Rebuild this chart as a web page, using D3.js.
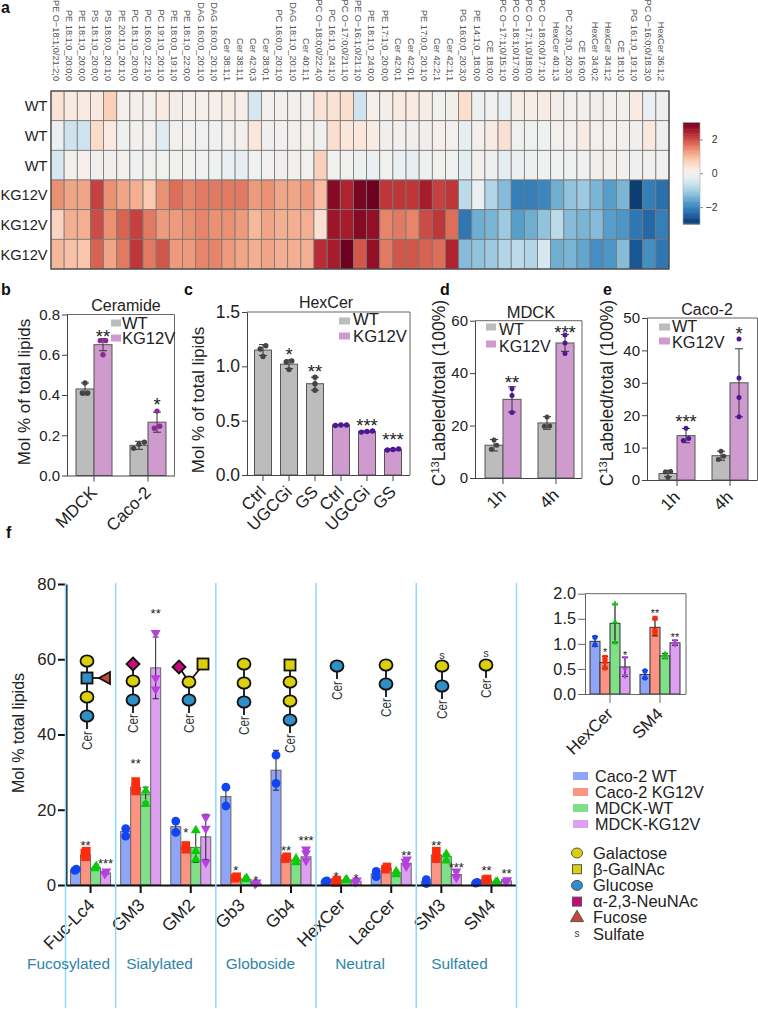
<!DOCTYPE html>
<html><head><meta charset="utf-8">
<script src="https://cdn.jsdelivr.net/npm/d3@7"></script>
<style>html,body{margin:0;background:#fff}svg{display:block}text{font-family:"Liberation Sans",Arial,sans-serif}</style>
</head><body><svg id="c" width="758" height="1009"></svg>
<script>
// ---------- Panel a ----------
const lipids=["PE O−18:1;0/21:2;0","PE 18:1;0_20:0;0","PE 18:1;0_20:0;0","PS 18:1;0_20:0;0","PS 18:0;0_20:1;0","PE 20:1;0_20:1;0","PC 18:1;0_20:0;0","PC 16:0;0_22:1;0","PC 19:1;0_20:1;0","PE 18:0;0_19:1;0","PE 18:1;0_22:0;0","DAG 16:0;0_20:1;0","DAG 16:0;0_20:1;0","Cer 38:1;1","Cer 38:1;1","Cer 42:0;3","Cer 38:0;1","PC 16:0;0_20:1;0","DAG 18:1;0_20:1;0","Cer 40:1;1","PC O−18:0;0/22:4;0","PC 16:1;0_24:1;0","PC O−17:0;0/21:1;0","PE O−16:1;0/21:1;0","PE 18:1;0_24:0;0","PE 17:1;0_20:0;0","Cer 42:0;1","Cer 42:0;1","PE 17:0;0_20:1;0","Cer 42:2;1","Cer 42:1;1","PG 16:0;0_20:3;0","PE 14:1;0_18:0;0","CE 18:0;0","PC O−17:1;0/15:1;0","PC O−18:1;0/17:0;0","PC O−17:1;0/18:0;0","PC O−18:0;0/17:1;0","HexCer 40:1;3","PC 20:3;0_20:3;0","CE 16:0;0","HexCer 34:0;2","HexCer 34:1;2","CE 18:1;0","PG 16:1;0_19:1;0","PC O−16:0;0/18:3;0","HexCer 36:1;2"];
const heatRows=["WT","WT","WT","KG12V","KG12V","KG12V"];
const heatWT1=[.4,.25,.25,.3,.7,.1,.1,.05,.25,.12,.1,.1,.1,.15,.12,-.5,.03,.05,.05,.03,.4,.4,.5,-.6,.1,.08,.25,.25,.15,-.05,.08,.5,-.1,-.05,-.2,.15,.15,.2,.12,.03,-.03,-.02,.05,-.03,.2,-.2,-.02];
const heatWT2=[-.15,-.6,-.6,.55,.25,-.1,.03,.05,-.35,-.03,-.03,-.08,-.07,.03,.03,.35,-.02,-.03,-.03,.03,-.05,.5,.35,.35,.2,-.02,-.03,-.02,-.02,.1,.05,-.25,.02,.2,.45,-.04,-.08,-.08,.05,.05,.2,.02,.01,.01,-.02,.3,-.02];
const heatWT3=[-.5,.05,.1,-.02,-.02,.05,-.07,-.05,-.05,-.05,-.03,-.06,-.06,-.2,-.25,-.07,-.03,-.02,-.03,-.03,.7,-.03,-.04,-.1,-.15,-.05,-.2,-.25,-.08,-.03,-.06,-.3,.05,-.1,-.3,-.15,-.1,-.08,-.08,-.07,-.05,-.02,-.02,-.03,-.1,-.03,-.03];
const heatKG1=[1.4,1.2,1.2,2.1,1.4,1.2,1.1,.8,1.4,1.7,1.5,1.6,1.6,1.6,1.6,1.3,1.4,1.2,1.2,1.3,.95,2.8,2.4,2.9,3,2.2,2.2,2.2,2.5,2.1,2.2,-.8,-.2,-.9,-1.3,-2.1,-2.1,-2,-1.5,-1.2,-1.1,-1.4,-1.7,-1.4,-2.9,-2.1,-2.3];
const heatKG2=[.65,1.1,1.1,2,1.4,1.8,2.1,1.6,1.3,1.3,1.4,1.5,1.4,1.4,1.3,1,1.2,1.1,1.1,1.1,.45,2.6,2.5,2.8,2.7,1.5,1.6,1.5,2,2.2,1.7,-2.2,-1.5,-1.4,-1.1,-1.7,-1.5,-1.2,-.8,-1.3,-1.4,-1.3,-1.7,-1.8,-2.2,-2.4,-2.1];
const heatKG3=[1,.9,.85,1.8,1.2,1.6,2.2,1.6,1.9,1.3,1.3,1.5,1.5,1.3,1.2,1.1,1.2,1.1,1.1,1.1,2.3,2.5,3,1.9,2.7,1.6,1.9,1.9,1.8,1.7,2.4,-1.3,-1.2,-1.1,-.9,-.8,-.9,-.5,-1.5,-1.4,-1.6,-1.9,-1.8,-1.3,-2.6,-1.9,-2.2];
const colorbarTicks=[2,0,-2];

// ---------- Panel b ----------
const bGroups=["MDCK","Caco-2"];
const bSeries=["WT","KG12V"];
const bValues=[.43,.65,.15,.265];
const bErrors=[.03,.03,.02,.05];
const bPoints=[[.41,.41,.46],[.60,.67,.67],[.135,.155,.165],[.235,.245,.32]];
const bStars=[["",0],["**",.71],["",0],["*",.375]];
// ---------- Panel c ----------
const cGroups=["Ctrl","UGCGi","GS","Ctrl ","UGCGi ","GS "];
const cValues=[1.15,1.02,.84,.46,.40,.235];
const cErrors=[.05,.04,.06,.004,.006,.006];
const cPoints=[[1.09,1.16,1.19],[.97,1.04,1.05],[.78,.84,.90],[.455,.46,.46],[.395,.40,.405],[.23,.235,.24]];
const cStars=[["",0],["*",1.15],["**",.99],["",0],["***",.495],["***",.36]];
// ---------- Panel d ----------
const dGroups=["1h","4h"];
const dValues=[12.5,30,21,51.5];
const dErrors=[2.2,4.8,2.4,3.2];
const dPoints=[[11,12.5,14.5],[25,31.5,34],[19.7,19.8,23.3],[47.5,51.5,54.5]];
const dStars=[["",0],["**",37.8],["",0],["***",57]];
// ---------- Panel e ----------
const eGroups=["1h","4h"];
const eValues=[2,13.7,7.5,30];
const eErrors=[1,2.2,1.4,10.5];
const ePoints=[[.8,2.5,2.6],[12.2,12.8,16],[6.3,7.3,8.9],[19.5,25.5,31.5,43.5]];
const eStars=[["",0],["***",19.4],["",0],["*",46.6]];
// ---------- Panel f ----------
const fGroups=["Fuc-Lc4","GM3","GM2","Gb3","Gb4","HexCer","LacCer","SM3","SM4"];
const fSeries=["Caco-2 WT","Caco-2 KG12V","MDCK-WT","MDCK-KG12V"];
const fValues=[4,8,4.5,3.2, 14.2,26,24,57.7, 15.5,10,10,12.8, 23.5,2,1.5,.5, 30.5,7,6.5,7.5, 1,1,1.3,1, 3,4.5,3.2,5.8, 1,8,7.5,2.8, .6,1.5,.8,1.1];
const fErrors=[.2,.8,.4,.4, 1.2,1.4,2,8.2, 1.8,.7,4,6, 3,.3,.2,.2, 5.3,.3,.6,1, .2,.2,.2,.2, .8,.4,.5,.8, .4,1.4,.8,.6, .1,.2,.2,.3];
const fPoints=[[3.9,4.2],[7.5,8.5,9],[4.4,5],[3,3.6], [13,15],[25,26,27.5],[21.5,25],[52,55,67], [14,17],[9.5,10.5],[6.8,9,14.5],[6,15,18], [21,26],[1.8,2.2],[1.5,1.8],[.3,.7], [27,34.5],[7,7.5],[6,7],[6.5,8.5,9.5], [.9,1.1],[.7,1.3],[1.2,1.4],[.8,1.2], [2.2,3.6],[4.2,4.8],[2.8,3.6],[5,6.2,6.8], [.4,1.4],[7,9],[6.5,8.2],[2,3.6], [.5,.7],[1.4,1.6],[.7,.9],[.9,1.3]];
const fStars=[["",0],["**",11.4],["",0],["***",6.4], ["",0],["**",33],["",0],["**",72.9], ["",0],["*",14.6],["",0],["",0], ["",0],["*",4.7],["",0],["*",2], ["",0],["**",10],["",0],["***",12.5], ["",0],["*",3],["",0],["*",2.6], ["",0],["",0],["",0],["**",8.7], ["",0],["**",11.4],["",0],["***",5.3], ["",0],["**",4.5],["",0],["**",3.7]];
const fClasses=["Fucosylated","Sialylated","Globoside","Neutral","Sulfated"];
// ---------- Inset ----------
const iGroups=["HexCer","SM4"];
const iValues=[1.05,.63,1.41,.54,.39,1.33,.76,1.02];
const iErrors=[.1,.12,.38,.19,.08,.17,.05,.05];
const iPoints=[[.98,1.13],[.52,.65,.73],[1.02,1.44,1.8],[.36,.5,.72],[.32,.46],[1.22,1.27,1.51],[.72,.8],[.99,1.06]];
const iStars=[["",0],["*",.875],["",0],["*",.82],["",0],["**",1.65],["",0],["**",1.18]];
const glycoLegend=["Galactose","β-GalNAc","Glucose","α-2,3-NeuNAc","Fucose","Sulfate"];

const svg=d3.select("#c");
const F='"Liberation Sans",Arial,sans-serif';
const GAL="#dccf0c",GLC="#2f8fc8",NEU="#c9087e",FUC="#c8453a";
const GRAY="#bcbcbc",PINK="#cf9bcf",DG="#444";

function label(x,y,t,o={}){
  const e=svg.append("text").attr("x",x).attr("y",y).attr("font-size",o.fs||15).attr("fill",o.fill||"#222")
   .attr("text-anchor",o.anchor||"start").attr("font-weight",o.bold?"bold":null).attr("font-family",o.family||F);
  if(o.rot!=null)e.attr("transform",`rotate(${o.rot},${x},${y})`);
  e.text(t);return e;
}
[["a",1,13],["b",1,295],["c",184,295],["d",440,295],["e",603,295],["f",6,538]].forEach(d=>label(d[1],d[2],d[0],{bold:true,fs:16,fill:"#111"}));

// ---------- heatmap ----------
(function(){
  const heat=[heatWT1,heatWT2,heatWT3,heatKG1,heatKG2,heatKG3];
  const X=d3.scaleBand().domain(d3.range(lipids.length)).range([51,669]);
  const Y=d3.scaleBand().domain(d3.range(heatRows.length)).range([91,269]);
  const col=v=>d3.interpolateRdBu(d3.scaleLinear().domain([3.05,-3.05]).range([0,1])(v));
  heat.forEach((row,r)=>{
    svg.append("g").selectAll("rect").data(row).join("rect")
     .attr("x",(d,i)=>X(i)).attr("y",Y(r)).attr("width",X.bandwidth()).attr("height",Y.bandwidth())
     .attr("fill",d=>col(d)).attr("stroke","#777").attr("stroke-width",.8);
  });
  svg.append("rect").attr("x",51).attr("y",91).attr("width",618).attr("height",178).attr("fill","none").attr("stroke","#444").attr("stroke-width",1.2);
  svg.append("g").selectAll("text").data(lipids).join("text")
    .attr("transform",(d,i)=>`translate(${X(i)+X.bandwidth()/2-4.7},81) rotate(90)`)
    .attr("text-anchor","end").attr("font-size",9.2).attr("fill","#555").text(d=>d);
  heatRows.forEach((t,r)=>label(47.5,Y(r)+Y.bandwidth()/2+5.5,t,{anchor:"end",fs:14.6}));
  const cY=d3.scaleLinear().domain([3,-3]).range([122.5,224]);
  svg.append("g").selectAll("rect").data(d3.range(3,-3,-.1)).join("rect")
    .attr("x",683).attr("width",17).attr("y",d=>cY(d)).attr("height",cY(0)-cY(.1)+.5).attr("fill",d=>col(d-.05));
  const ax=svg.append("g").attr("transform","translate(700,0)").call(d3.axisRight(cY).tickValues(colorbarTicks).tickSize(3).tickFormat(d3.format("d")));
  ax.select(".domain").remove();ax.selectAll("line").attr("stroke","#888");
  ax.selectAll("text").attr("font-size",10.5).attr("font-family",F).attr("fill","#333").attr("text-anchor","end").attr("x",17.5).text(d=>d<0?"−"+(-d):d);
  svg.append("rect").attr("x",683).attr("y",122.5).attr("width",17).attr("height",101.5).attr("fill","none").attr("stroke","#aaa").attr("stroke-width",.6);
})();

// ---------- generic bars ----------
function swarm(vals,Y,r,gap){
  const s=vals.slice().sort((a,b)=>a-b),out=[];let cl=[];
  const flush=()=>{cl.forEach((v,j)=>out.push({v,dx:(j-(cl.length-1)/2)*gap}));cl=[];};
  s.forEach(v=>{ if(cl.length&&Math.abs(Y(v)-Y(cl[cl.length-1]))>=r*2)flush(); cl.push(v); });
  flush();return out;
}
function symbolPath(k,r){
  const t=[d3.symbolCircle,d3.symbolSquare,d3.symbolTriangle,d3.symbolTriangle][k];
  const size=[Math.PI*r*r,4*r*r*.95,2.2*r*r,2.2*r*r][k];
  return d3.symbol().type(t).size(size)();
}
function bars(c){
  const X=d3.scaleBand().domain(c.groups).range(c.xr);
  const Y=d3.scaleLinear().domain(c.yd).range(c.yr);
  const ns=c.nSeries;
  const g=svg.append("g");
  const list=c.values.map((v,i)=>{
    const gi=Math.floor(i/ns),s=i%ns;
    return {v,i,s,cx:X(c.groups[gi])+X.bandwidth()/2+(s-(ns-1)/2)*c.step,e:c.errors[i],p:c.points[i],st:c.stars[i]};
  });
  g.selectAll("rect").data(list).join("rect")
   .attr("x",d=>d.cx-c.bw/2).attr("width",c.bw).attr("y",d=>Y(d.v)).attr("height",d=>Y(0)-Y(d.v))
   .attr("fill",d=>c.fill(d)).attr("stroke",c.barStroke||"#555").attr("stroke-width",c.barSW||1);
  const eg=g.append("g").attr("stroke",c.errColor||"#333").attr("stroke-width",c.errSW||1);
  list.forEach(d=>{
    eg.append("line").attr("x1",d.cx).attr("x2",d.cx).attr("y1",Y(d.v-d.e)).attr("y2",Y(d.v+d.e));
    [d.v-d.e,d.v+d.e].forEach(q=>eg.append("line").attr("x1",d.cx-c.cap).attr("x2",d.cx+c.cap).attr("y1",Y(q)).attr("y2",Y(q)));
  });
  list.forEach(d=>{
    swarm(d.p,Y,c.marker?c.r*.3:c.r,c.gap).forEach(p=>{
      const k=c.marker?d.s:0;
      g.append("path").attr("fill",c.pointFill(d)).attr("d",symbolPath(k,c.r))
       .attr("transform",`translate(${d.cx+p.dx},${Y(p.v)})${k===3?" rotate(180)":""}`);
    });
  });
  list.forEach(d=>{ if(d.st[0]) label(d.cx+(c.starDx||0),Y(d.st[1])+c.starFs*.57,d.st[0],{anchor:"middle",fs:c.starFs,fill:"#222"}); });
  const axS=c.axisColor||DG,axW=c.axisW||1;
  if(c.frame){
    g.append("path").attr("d",`M${c.axX},${c.yr[1]}H${c.frame}V${c.yr[0]}`).attr("fill","none").attr("stroke","#666").attr("stroke-width",1);
  }
  const ay=svg.append("g").attr("transform",`translate(${c.axX},0)`).call(d3.axisLeft(Y).tickValues(c.yt).tickSize(c.tickL||5).tickSizeOuter(0).tickFormat(c.yf));
  const ax=svg.append("g").attr("transform",`translate(0,${c.yr[0]})`).call(d3.axisBottom(X).tickSize(c.tickB||6).tickSizeOuter(0));
  ax.select(".domain").attr("d",`M${c.axX},0.5H${c.axEnd}`);
  [ay,ax].forEach(a=>{a.selectAll(".domain,line").attr("stroke",axS).attr("stroke-width",axW);});
  ay.selectAll("text").attr("font-size",c.fs).attr("font-family",F).attr("fill","#222").attr("x",-(c.tickL||5)-2);
  ax.selectAll("text").attr("font-size",c.xfs||c.fs).attr("font-family",F).attr("fill","#222")
    .attr("text-anchor","end").attr("dy",null).attr("y",0).attr("x",0)
    .attr("transform",`translate(${c.xlDx||4},${(c.tickB||6)+(c.xlDy||12)}) rotate(-45)`);
}
const hh=d=>d.s===0?GRAY:PINK;
const base={nSeries:2,bw:18,step:18,cap:4,r:2.7,gap:5.4,fs:15,xfs:17,starFs:18.5,fill:hh};
bars({...base,groups:bGroups,values:bValues,errors:bErrors,points:bPoints,stars:bStars,xr:[67,175],yd:[0,.8],yr:[475.5,314.5],yt:[0,.2,.4,.6,.8],yf:d3.format(".1f"),axX:67,axEnd:175,frame:174.5,pointFill:d=>d.s===0?"#444":"#8e2a96"});
bars({...base,nSeries:1,bw:17,step:0,gap:5.6,groups:cGroups,values:cValues,errors:cErrors,points:cPoints,stars:cStars,xr:[250,406],yd:[0,1.5],yr:[475,312],yt:[0,.5,1,1.5],yf:d3.format(".1f"),axX:247,axEnd:410,frame:410,fs:17.5,fill:d=>d.i<3?GRAY:PINK,pointFill:d=>d.i<3?"#444":"#4a1a96"});
bars({...base,groups:dGroups,values:dValues,errors:dErrors,points:dPoints,stars:dStars,xr:[476.5,582.5],yd:[0,60],yr:[478,320.7],yt:[0,20,40,60],yf:d3.format("d"),axX:475,axEnd:582,frame:582,r:2.5,pointFill:d=>d.s===0?"#444":"#4a1a96"});
bars({...base,groups:eGroups,values:eValues,errors:eErrors,points:ePoints,stars:eStars,xr:[650.5,756.5],yd:[0,50],yr:[480,318],yt:[0,10,20,30,40,50],yf:d3.format("d"),axX:647,axEnd:757.5,frame:757.5,r:2.5,pointFill:d=>d.s===0?"#444":"#4a1a96"});

const FILL4=["#8fa6f6","#fd9383","#80e088","#dd9ff0"],PT4=["#0f45f5","#fb2c0c","#0ac90a","#b63fe0"];
bars({nSeries:4,bw:10,step:10,cap:3,r:4.4,gap:1.5,marker:true,fs:16.8,xfs:17.5,starFs:13,fill:d=>FILL4[d.s],pointFill:d=>PT4[d.s],barStroke:"#666",barSW:1,errColor:"#222",errSW:1,
  groups:fGroups,values:fValues,errors:fErrors,points:fPoints,stars:fStars,xr:[65.5,516.5],yd:[0,80],yr:[885,584],yt:[0,20,40,60,80],yf:d3.format("d"),axX:66,axEnd:516,axisColor:"#111",axisW:2,tickL:8,tickB:8,xlDy:13,xlDx:5});
bars({nSeries:4,bw:10,step:10,cap:3,r:2.6,gap:3,marker:true,fs:16.3,xfs:17,starFs:10.7,fill:d=>FILL4[d.s],pointFill:d=>PT4[d.s],barStroke:"#333",barSW:1,errColor:"#222",errSW:1.2,
  groups:iGroups,values:iValues,errors:iErrors,points:iPoints,stars:iStars,xr:[585,685],yd:[0,2],yr:[694,593.7],yt:[0,.5,1,1.5,2],yf:d3.format(".1f"),axX:585,axEnd:686,frame:686,axisColor:"#666",tickL:7,tickB:9,xlDy:12});

// y titles and titles
label(30,392,"Mol % of total lipids",{anchor:"middle",rot:-90,fs:17});
label(204,400,"Mol % of total lipids",{anchor:"middle",rot:-90,fs:17});
function c13(x,y){const t=label(x,y,"",{anchor:"middle",rot:-90,fs:17.5});
  t.append("tspan").text("C");t.append("tspan").attr("font-size",11).attr("dy",-6).text("13");t.append("tspan").attr("dy",6).text("Labeled/total (100%)");}
c13(445,393);c13(613,393);
label(24,733,"Mol % total lipids",{anchor:"middle",rot:-90,fs:16});
label(126,311,"Ceramide",{anchor:"middle",fs:16});
label(326,308,"HexCer",{anchor:"middle",fs:16});
label(531,318,"MDCK",{anchor:"middle",fs:16.5});
label(707,315,"Caco-2",{anchor:"middle",fs:16});
function mini(x,w,y1,y2,tx,fs,ty1,ty2){
  [[y1,GRAY,"WT",ty1],[y2,PINK,"KG12V",ty2]].forEach(d=>{
    svg.append("rect").attr("x",x).attr("y",d[0]-3.5).attr("width",w).attr("height",7).attr("fill",d[1]);
    label(tx,d[3],d[2],{fs});
  });
}
mini(111,10,323,338,122,16.5,329,344);
mini(339,11,321,336,353,16.7,325,342);
mini(486,10,327,344,499,16,335,351.5);
mini(659,11,327,341,672,16.3,332,348);

// ---------- class dividers and labels ----------
const dividerX=d3.scaleLinear().domain([0,9]).range([65.5,516.5]);
[0,1,3,5,7,9].forEach(i=>svg.append("line").attr("x1",dividerX(i)).attr("x2",dividerX(i)).attr("y1",583).attr("y2",1008).attr("stroke","#8fd8fb").attr("stroke-width",1.5));
[[fClasses[0],68.5],[fClasses[1],159.5],[fClasses[2],260.5],[fClasses[3],360],[fClasses[4],459.5]].forEach(d=>
  label(d[1],969,d[0],{anchor:"middle",fs:15.4,fill:"#2e85a8",family:'"Open Sans",sans-serif'}));

// ---------- glycans ----------
function node(kind,x,y,r=6.5){
  const fill={gal:GAL,sq:GAL,glc:GLC,neu:NEU,bsq:GLC,fuc:FUC}[kind];
  const o={fill,stroke:"#111","stroke-width":1.8};
  let e;
  if(kind==="gal"||kind==="glc")e=svg.append("ellipse").attr("cx",x).attr("cy",y).attr("rx",r).attr("ry",r*.88);
  else if(kind==="sq"||kind==="bsq")e=svg.append("rect").attr("x",x-r*.85).attr("y",y-r*.85).attr("width",r*1.7).attr("height",r*1.7);
  else if(kind==="neu")e=svg.append("path").attr("d",`M${x},${y-r}L${x+r},${y}L${x},${y+r}L${x-r},${y}Z`);
  else e=svg.append("path").attr("d",`M${x-6},${y}L${x+5},${y-6}V${y+6}Z`);
  Object.entries(o).forEach(([k,v])=>e.attr(k,v));
}
function link(x1,y1,x2,y2){svg.append("line").attr("x1",x1).attr("y1",y1).attr("x2",x2).attr("y2",y2).attr("stroke","#111").attr("stroke-width",1.8);}
function chain(x,cerY,nodes,sulf){
  const last=nodes[nodes.length-1];
  link(x,nodes[0][1],x,last[1]+13);
  label(x+5,cerY,"Cer",{rot:-90,fs:15.5,fill:"#333",family:'"Open Sans",sans-serif'}).attr("textLength",19).attr("lengthAdjust","spacingAndGlyphs");
  nodes.forEach(n=>node(n[0],x,n[1]));
  if(sulf)label(x,sulf,"s",{anchor:"middle",fs:11,fill:"#333",family:'"Open Sans",sans-serif'});
}
link(87,678,104,678);node("fuc",105,678);
chain(87,750,[["gal",661],["bsq",678],["gal",697],["glc",716]]);
chain(133,733,[["neu",664],["gal",681],["glc",700]]);
link(179,667,189,682);link(203,665,189,682);
chain(189,733,[["gal",682],["glc",700]]);
node("neu",179,667);node("sq",203,664);
chain(244,735,[["gal",664],["gal",683],["glc",702]]);
chain(290,753,[["sq",665],["gal",682],["gal",701],["glc",720]]);
chain(337,700,[["glc",666]]);
chain(386,717,[["gal",665],["glc",684]]);
chain(442,719,[["gal",666],["glc",686]],659);
chain(486,698,[["gal",665]],657);

// ---------- legends ----------
fSeries.forEach((t,i)=>{
  const y=d3.scaleLinear().domain([0,3]).range([776,824])(i);
  svg.append("rect").attr("x",573).attr("y",y-4).attr("width",15).attr("height",8).attr("fill",FILL4[i]);
  label(595,y+5.5,t,{fs:16.2,fill:"#222"});
});
const legendY=d3.scalePoint().domain(glycoLegend).range([853,934]);
const legendKinds=["gal","sq","glc","neu","fuc","s"];
glycoLegend.forEach((t,i)=>{
  const y=legendY(t),k=legendKinds[i];
  const g=svg.append("g").attr("transform",`translate(577,${y})`);
  const st={"stroke":"#555","stroke-width":1};
  let e=null;
  if(k==="gal")e=g.append("ellipse").attr("rx",5.5).attr("ry",5).attr("fill",GAL);
  if(k==="glc")e=g.append("ellipse").attr("rx",5.5).attr("ry",5).attr("fill",GLC);
  if(k==="sq")e=g.append("rect").attr("x",-4.5).attr("y",-4.5).attr("width",9).attr("height",9).attr("fill",GAL);
  if(k==="neu")e=g.append("rect").attr("x",-4.5).attr("y",-4.5).attr("width",9).attr("height",9).attr("fill",NEU);
  if(k==="fuc")e=g.append("path").attr("d",d3.symbol().type(d3.symbolTriangle).size(75)()).attr("fill",FUC);
  if(e)Object.entries(st).forEach(([a,b])=>e.attr(a,b));
  else g.append("text").attr("text-anchor","middle").attr("y",3).attr("font-size",10).attr("fill","#333").text("s");
  label(593,y+5.5,t,{fs:16.5,fill:"#222"});
});
</script></body></html>
